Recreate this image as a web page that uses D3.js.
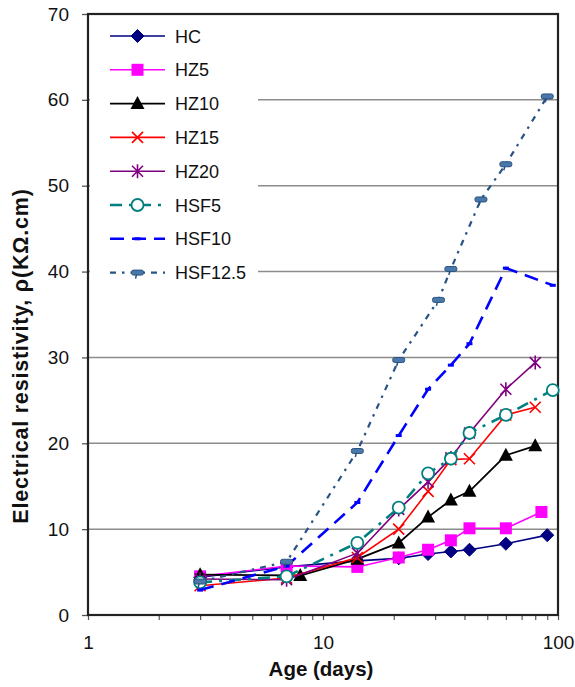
<!DOCTYPE html>
<html>
<head>
<meta charset="utf-8">
<script src="https://cdn.jsdelivr.net/npm/d3@7/dist/d3.min.js"></script>
<style>
body{margin:0;background:#fff;}
svg{display:block;font-family:"Liberation Sans",Arial,sans-serif;}
</style>
</head>
<body>
<svg id="chart" width="575" height="687"></svg>
<script>
// ---- data ----
const seriesNames = ["HC","HZ5","HZ10","HZ15","HZ20","HSF5","HSF10","HSF12.5"];
const daysHC    = [3,7,14,21,28,35,42,60,90];
const valsHC    = [4.4,5.6,6.3,6.6,7.1,7.4,7.6,8.3,9.3];
const daysHZ5   = [3,7,14,21,28,35,42,60,85];
const valsHZ5   = [4.5,5.7,5.6,6.7,7.6,8.7,10.1,10.1,12.0];
const daysHZ10  = [3,8,14,21,28,35,42,60,80];
const valsHZ10  = [4.7,4.6,6.5,8.4,11.4,13.4,14.4,18.6,19.7];
const daysHZ15  = [3,7,14,21,28,35,42,60,80];
const valsHZ15  = [3.4,4.3,6.7,10.0,14.4,18.1,18.2,23.3,24.2];
const daysHZ20  = [3,7,14,21,28,35,42,60,80];
const valsHZ20  = [4.2,4.1,7.2,12.3,15.5,18.3,21.2,26.3,29.4];
const daysHSF5  = [3,7,14,21,28,35,42,60,95];
const valsHSF5  = [3.8,4.5,8.4,12.5,16.5,18.2,21.2,23.3,26.2];
const daysHSF10 = [3,7,14,21,28,35,42,60,95];
const valsHSF10 = [2.9,5.7,13.1,20.9,26.3,29.1,31.6,40.4,38.4];
const daysHSF125= [3,7,14,21,31,35,47,60,90];
const valsHSF125= [3.9,6.2,19.1,29.7,36.7,40.3,48.4,52.5,60.4];
const yTicks = [0,10,20,30,40,50,60,70];
const xTickLabels = [1,10,100];

// ---- styles ----
const styles = {
  "HC":     {color:"#000080", dash:null, width:1.6, marker:"diamond"},
  "HZ5":    {color:"#FF00FF", dash:null, width:1.6, marker:"square"},
  "HZ10":   {color:"#000000", dash:null, width:1.8, marker:"triangle"},
  "HZ15":   {color:"#FF0000", dash:null, width:1.6, marker:"x"},
  "HZ20":   {color:"#800080", dash:null, width:1.6, marker:"star"},
  "HSF5":   {color:"#008080", dash:"12,7,3,7", width:2.6, marker:"circle"},
  "HSF10":  {color:"#0000FF", dash:"14,8", width:2.6, marker:"bar"},
  "HSF12.5":{color:"#2A5385", dash:"6,6,2.5,6", width:2.2, marker:"pill"}
};
const allDays = [daysHC,daysHZ5,daysHZ10,daysHZ15,daysHZ20,daysHSF5,daysHSF10,daysHSF125];
const allVals = [valsHC,valsHZ5,valsHZ10,valsHZ15,valsHZ20,valsHSF5,valsHSF10,valsHSF125];
const series = seriesNames.map((n,i)=>({name:n, pts: allDays[i].map((d,j)=>({x:d,y:allVals[i][j]}))}));

const svg = d3.select("#chart");
const L=88, R=558, T=14, B=615;
const x = d3.scaleLog().domain([1,100]).range([L,R]);
const y = d3.scaleLinear().domain([0,70]).range([B,T]);

// gridlines
svg.append("g").selectAll("line").data(yTicks.filter(v=>v>0&&v<70)).join("line")
  .attr("x1",L).attr("x2",R).attr("y1",d=>y(d)).attr("y2",d=>y(d))
  .attr("stroke","#8c8c8c").attr("stroke-width",1.5);

// legend background (covers gridlines)
svg.append("rect").attr("x",L+2).attr("y",T+5).attr("width",168).attr("height",272).attr("fill","#fff");

// axes
const yAxis = d3.axisLeft(y).tickValues(yTicks).tickSize(6).tickPadding(13).tickFormat(d3.format("d"));
const gy = svg.append("g").attr("transform",`translate(${L},0)`).call(yAxis);
gy.select(".domain").remove();
gy.selectAll("line").attr("stroke","#555").attr("stroke-width",1.3);
gy.selectAll("text").attr("font-size",19).attr("fill","#111");

const minorTicks = [];
for (let dec of [1,10]) for (let k=1;k<=10;k++) minorTicks.push(dec*k);
const xAxis = d3.axisBottom(x).tickValues(Array.from(new Set(minorTicks))).tickSize(5).tickPadding(16)
  .tickFormat(d=> xTickLabels.includes(d) ? String(d) : "");
const gx = svg.append("g").attr("transform",`translate(0,${B})`).call(xAxis);
gx.select(".domain").remove();
gx.selectAll("line").attr("stroke","#555").attr("stroke-width",1.2);
gx.selectAll("text").attr("font-size",19).attr("fill","#111");

// plot frame
svg.append("rect").attr("x",L).attr("y",T).attr("width",R-L).attr("height",B-T)
  .attr("fill","none").attr("stroke","#222").attr("stroke-width",2.2);

// axis titles
svg.append("text").attr("x",321).attr("y",676).attr("text-anchor","middle")
  .attr("font-size",20.5).attr("font-weight","bold").attr("fill","#111").text("Age (days)");
svg.append("text").attr("transform",`translate(28,356) rotate(-90)`).attr("text-anchor","middle")
  .attr("font-size",21.5).attr("font-weight","bold").attr("letter-spacing",0.8).attr("fill","#111")
  .text("Electrical resistivity, ρ(KΩ.cm)");

// marker drawing
function drawMarker(g, type, color){
  switch(type){
    case "diamond": g.append("path").attr("d","M0,-6.5L6.5,0L0,6.5L-6.5,0Z").attr("fill",color).attr("stroke",color); break;
    case "square": g.append("rect").attr("x",-6).attr("y",-6).attr("width",12).attr("height",12).attr("fill",color); break;
    case "triangle": g.append("path").attr("d","M0,-7.5L7,5.5L-7,5.5Z").attr("fill",color); break;
    case "x": g.append("path").attr("d","M-5.5,-5.5L5.5,5.5M-5.5,5.5L5.5,-5.5").attr("stroke",color).attr("stroke-width",1.6); break;
    case "star": g.append("path").attr("d","M-5.5,-5.5L5.5,5.5M-5.5,5.5L5.5,-5.5M0,-7L0,7").attr("stroke",color).attr("stroke-width",1.6); break;
    case "circle": g.append("circle").attr("r",6).attr("fill","#fff").attr("stroke",color).attr("stroke-width",1.8); break;
    case "bar": g.append("rect").attr("x",-3).attr("y",-1.5).attr("width",6).attr("height",3).attr("fill",color); break;
    case "pill":
      g.append("rect").attr("x",-6).attr("y",-2.5).attr("width",12).attr("height",5).attr("rx",2).attr("fill","#4a78a8").attr("stroke",color).attr("stroke-width",1);
      g.append("line").attr("x1",-1).attr("x2",-2).attr("y1",2).attr("y2",6).attr("stroke",color).attr("stroke-width",1.5);
      break;
  }
}

const line = d3.line().x(d=>x(d.x)).y(d=>y(d.y));
const plot = svg.append("g");
series.forEach(s=>{
  const st = styles[s.name];
  plot.append("path").datum(s.pts).attr("d",line).attr("fill","none")
    .attr("stroke",st.color).attr("stroke-width",st.width).attr("stroke-dasharray",st.dash);
  s.pts.forEach(p=>{
    const g = plot.append("g").attr("transform",`translate(${x(p.x)},${y(p.y)})`);
    drawMarker(g, st.marker, st.color);
  });
});

// legend
const leg = svg.append("g");
seriesNames.forEach((n,i)=>{
  const st = styles[n];
  const yy = 36 + i*33.8;
  leg.append("line").attr("x1",110).attr("x2",165).attr("y1",yy).attr("y2",yy)
    .attr("stroke",st.color).attr("stroke-width",st.width).attr("stroke-dasharray",st.dash);
  const g = leg.append("g").attr("transform",`translate(137.5,${yy})`);
  drawMarker(g, st.marker, st.color);
  leg.append("text").attr("x",175).attr("y",yy+6.5).attr("font-size",18).attr("fill","#111").text(n);
});
</script>
</body>
</html>
